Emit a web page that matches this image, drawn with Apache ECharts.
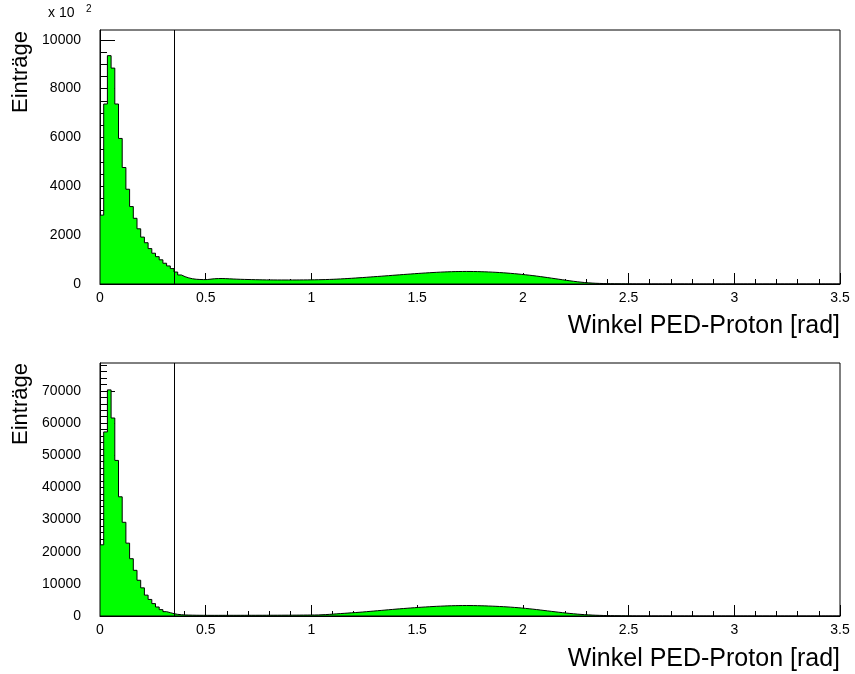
<!DOCTYPE html>
<html><head><meta charset="utf-8">
<script src="https://cdn.jsdelivr.net/npm/echarts@6/dist/echarts.min.js"></script>
<style>html,body{margin:0;padding:0;background:#fff}#c{width:855px;height:674px}</style>
</head><body><div id="c"></div>
<script>
// ---- data ----
const xMin = 0, xMax = 3.5;              // histogram range (rad), 200 bins
const xTickLabels = [0, 0.5, 1, 1.5, 2, 2.5, 3, 3.5];
const cutValue = 0.35;                    // vertical cut line (rad)
const xTitle = 'Winkel PED-Proton [rad]';
const yTitle = 'Einträge';

// upper histogram (entries in units of 10^2)
const topValues = [
  2820, 7370, 9350, 8840, 7370, 5960, 4770, 3880, 3170, 2690,
  2260, 1920, 1690, 1450, 1260, 1120, 990, 850, 740, 630,
  490, 370, 300, 250, 215, 195, 185, 180, 182,
  200, 215, 222, 225, 220, 212, 205, 198, 192, 188, 184, 180,
  176, 173, 170, 168, 167, 166, 165, 165, 164, 164, 165, 165, 166, 167, 168, 170, 172,
  175, 178, 182, 187, 193,
  200, 208, 216, 225, 234, 244,
  254, 264, 275, 286, 297, 308,
  319, 331, 342, 354, 365, 376,
  388, 399, 410, 421, 432, 442,
  452, 461, 470, 478, 486, 493,
  499, 504, 508, 511, 513, 514,
  513, 511, 508, 504, 499, 493,
  486, 478, 469, 459, 448, 436,
  423, 409, 394, 378, 361, 343,
  324, 304, 283, 262, 240, 218,
  196, 174, 152, 131, 111, 92,
  75, 60, 48, 38, 30, 24,
  19, 15, 12, 10, 8, 7,
  6, 6, 5, 5, 4, 4, 4, 3, 3, 3, 3, 2, 2, 2, 2, 2, 2, 1, 1, 1,
  1, 1, 1, 1, 1, 1, 1, 1, 1, 1, 1, 1, 1, 1, 1, 1, 1, 1, 1, 1,
  1, 1, 1, 1, 1, 1, 1, 1, 1, 1, 1, 1, 1, 1, 1, 1, 1, 1, 1
];
const topYMax = 10400;
const topYTicks = [0, 2000, 4000, 6000, 8000, 10000];
const topYMinorStep = 500;

// lower histogram (entries)
const bottomValues = [
  22140, 57260, 70340, 61590, 48400, 37080, 29150, 22660, 17820, 14210,
  11120, 8750, 6490, 5150,
  3850, 2800, 1980, 1350, 1040, 730, 520,
  400, 330, 290, 260, 240, 225, 215, 210,
  205, 205, 208, 210, 212, 214, 216, 218, 220, 222, 224, 226, 228, 230, 233,
  236, 239, 242, 245, 250, 255, 260, 266, 272, 280, 290, 300, 310, 320,
  340, 385, 440, 510, 590,
  670, 750, 830, 910, 990, 1070,
  1150, 1240, 1340, 1440, 1540, 1640,
  1740, 1840, 1940, 2040, 2140, 2230,
  2320, 2410, 2500, 2580, 2660, 2740,
  2810, 2880, 2950, 3010, 3060, 3110,
  3150, 3190, 3220, 3240, 3255, 3260,
  3255, 3240, 3215, 3185, 3150, 3110,
  3065, 3015, 2960, 2900, 2830, 2755,
  2670, 2580, 2480, 2370, 2255, 2130,
  2000, 1865, 1725, 1585, 1445, 1305,
  1170, 1040, 915, 800, 690, 590,
  500, 420, 350, 290, 240, 200,
  165, 135, 110, 90, 75, 62,
  52, 44, 38, 33, 29, 26, 23, 21, 19, 17,
  16, 15, 14, 13, 12, 11, 11, 10, 10, 9, 9, 8, 8, 8, 7, 7, 7, 6, 6, 6,
  6, 5, 5, 5, 5, 5, 5, 4, 4, 4, 4, 4, 4, 4, 4, 3, 3, 3, 3, 3,
  3, 3, 3, 3, 3, 3, 3, 3, 3
];
const bottomYMax = 78700;
const bottomYTicks = [0, 10000, 20000, 30000, 40000, 50000, 60000, 70000];
const bottomYMinorStep = 2000;

// ---- helpers ----
function stepData(vals) {
  const w = (xMax - xMin) / vals.length;
  const d = vals.map((v, i) => [xMin + i * w, v]);
  d.push([xMax, vals[vals.length - 1]]);
  return d;
}
function minorList(max, step, majors) {
  const out = [];
  for (let v = step; v < max; v += step) if (majors.indexOf(v) < 0) out.push(v);
  return out;
}

const FONT = '"Liberation Sans", Arial, Helvetica, sans-serif';
const grids = [
  { left: 100, top: 30, width: 740, height: 254 },
  { left: 100, top: 363, width: 740, height: 253 }
];

function xAxisCfg(gi) {
  return {
    gridIndex: gi, type: 'value', min: xMin, max: xMax, interval: 0.5,
    axisLine: { show: true, onZero: false, lineStyle: { color: '#000', width: 1 } },
    axisTick: { show: true, inside: true, length: 11, lineStyle: { color: '#000', width: 1 } },
    minorTick: { show: true, splitNumber: 5, length: 5, lineStyle: { color: '#000', width: 1 } },
    splitLine: { show: false }, minorSplitLine: { show: false },
    axisLabel: { color: '#000', fontFamily: FONT, fontSize: 14, margin: 7,
      customValues: xTickLabels, formatter: v => String(v) }
  };
}
function yAxesCfg(gi, max, majors, minorStep) {
  return [{
    gridIndex: gi, type: 'value', min: 0, max: max,
    axisLine: { show: true, onZero: false, lineStyle: { color: '#000', width: 1 } },
    axisTick: { show: true, inside: true, length: 15, customValues: majors, lineStyle: { color: '#000', width: 1 } },
    minorTick: { show: false },
    splitLine: { show: false },
    axisLabel: { color: '#000', fontFamily: FONT, fontSize: 14, margin: 19, customValues: majors,
      formatter: v => String(v) }
  }, {
    gridIndex: gi, type: 'value', min: 0, max: max, position: 'left', offset: 0,
    axisLine: { show: false },
    axisTick: { show: true, inside: true, length: 7, customValues: minorList(max, minorStep, majors), lineStyle: { color: '#000', width: 1 } },
    splitLine: { show: false },
    axisLabel: { show: false }
  }];
}

function histSeries(gi, vals) {
  return {
    type: 'line', xAxisIndex: gi, yAxisIndex: gi * 2, step: 'end',
    data: stepData(vals), symbol: 'none', silent: true,
    lineStyle: { color: '#000', width: 1 },
    areaStyle: { color: '#00ff00', opacity: 1 },
    markLine: {
      silent: true, symbol: ['none', 'none'], label: { show: false },
      lineStyle: { color: '#000', width: 1, type: 'solid' },
      data: [{ xAxis: cutValue }]
    },
    z: 1
  };
}

const chart = echarts.init(document.getElementById('c'), null, { renderer: 'canvas' });
chart.setOption({
  animation: false,
  backgroundColor: '#fff',
  grid: grids.map(g => Object.assign({ show: true, borderColor: '#000', borderWidth: 1, backgroundColor: 'transparent', z: 5 }, g)),
  xAxis: [xAxisCfg(0), xAxisCfg(1)],
  yAxis: [].concat(yAxesCfg(0, topYMax, topYTicks, topYMinorStep), yAxesCfg(1, bottomYMax, bottomYTicks, bottomYMinorStep)),
  series: [histSeries(0, topValues), histSeries(1, bottomValues)],
  graphic: [
    { type: 'text', x: 840, y: 326, style: { text: xTitle, font: '25px ' + FONT, fill: '#000', align: 'right', verticalAlign: 'middle' } },
    { type: 'text', x: 840, y: 659, style: { text: xTitle, font: '25px ' + FONT, fill: '#000', align: 'right', verticalAlign: 'middle' } },
    { type: 'text', x: 21, y: 31, rotation: Math.PI / 2, style: { text: yTitle, font: '22px ' + FONT, fill: '#000', align: 'right', verticalAlign: 'middle' } },
    { type: 'text', x: 21, y: 363, rotation: Math.PI / 2, style: { text: yTitle, font: '22px ' + FONT, fill: '#000', align: 'right', verticalAlign: 'middle' } },
    { type: 'text', x: 48, y: 13, style: { text: 'x 10', font: '14px ' + FONT, fill: '#000', align: 'left', verticalAlign: 'middle' } },
    { type: 'text', x: 86, y: 9, style: { text: '2', font: '10px ' + FONT, fill: '#000', align: 'left', verticalAlign: 'middle' } }
  ]
});
</script>
</body></html>
